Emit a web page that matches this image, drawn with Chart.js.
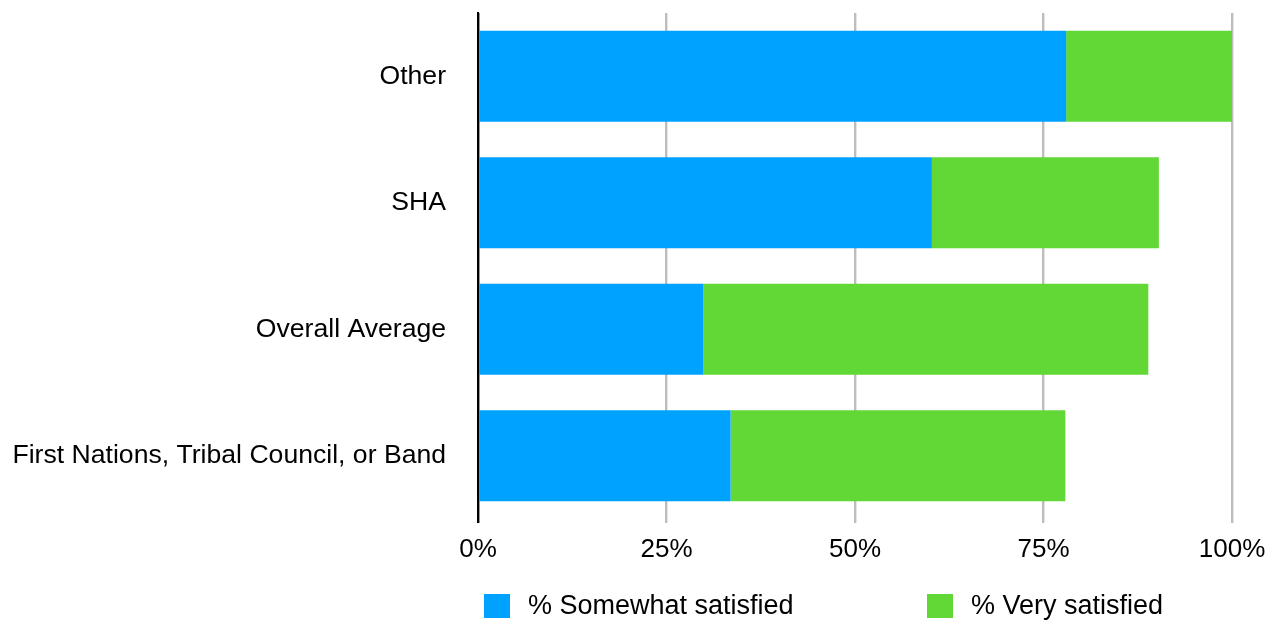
<!DOCTYPE html>
<html>
<head>
<meta charset="utf-8">
<script src="https://cdn.jsdelivr.net/npm/chart.js@4/dist/chart.umd.min.js"></script>
<style>
  html, body { margin: 0; padding: 0; background: #fff; }
  #wrap { width: 1275px; height: 622px; position: relative; }
</style>
</head>
<body>
<div id="wrap"><canvas id="c" width="1275" height="622"></canvas></div>
<script>
// Satisfaction by organisation type (stacked percentages)
const categories = ['Other', 'SHA', 'Overall Average', 'First Nations, Tribal Council, or Band'];
const somewhatSatisfied = [78.0, 60.2, 29.9, 33.5];
const verySatisfied = [22.0, 30.1, 59.0, 44.4];
const seriesNames = ['% Somewhat satisfied', '% Very satisfied'];
const seriesColors = ['#00A2FF', '#61D836'];
const xTicks = [0, 25, 50, 75, 100];

const FONT = '"Liberation Sans", Arial, Helvetica, sans-serif';

// Legend drawn below the plot, anchored to the plot area
const bottomLegend = {
  id: 'bottomLegend',
  afterDraw(chart) {
    const ctx = chart.ctx;
    const area = chart.chartArea;
    const offsets = [6, 449];
    ctx.save();
    ctx.font = '27px ' + FONT;
    ctx.textBaseline = 'middle';
    chart.data.datasets.forEach((ds, i) => {
      const x = area.left + offsets[i];
      const y = 594;
      ctx.fillStyle = ds.backgroundColor;
      ctx.fillRect(x, y, 26, 24);
      ctx.fillStyle = '#000';
      ctx.fillText(ds.label, x + 44, y + 13);
    });
    ctx.restore();
  }
};

new Chart(document.getElementById('c'), {
  type: 'bar',
  data: {
    labels: categories,
    datasets: [
      { label: seriesNames[0], data: somewhatSatisfied, backgroundColor: seriesColors[0],
        barPercentage: 0.9, categoryPercentage: 0.8 },
      { label: seriesNames[1], data: verySatisfied, backgroundColor: seriesColors[1],
        barPercentage: 0.9, categoryPercentage: 0.8 }
    ]
  },
  options: {
    indexAxis: 'y',
    responsive: false,
    animation: false,
    layout: { padding: { top: 13, right: 43, left: 0, bottom: 0 } },
    plugins: { legend: { display: false }, tooltip: { enabled: false } },
    scales: {
      x: {
        stacked: true,
        min: 0,
        max: 100,
        afterBuildTicks(scale) { scale.ticks = xTicks.map(v => ({ value: v })); },
        afterFit(scale) {
          scale.height = 103;
          scale.paddingLeft = 0;
          scale.paddingRight = 0;
        },
        grid: {
          color: ctx => (ctx.tick && ctx.tick.value === 0) ? '#000' : '#bdbdbd',
          lineWidth: 2.4,
          tickLength: 4,
          drawOnChartArea: true
        },
        border: { display: false },
        ticks: {
          color: '#000',
          padding: 11,
          font: { family: FONT, size: 26 },
          callback: v => v + '%'
        }
      },
      y: {
        stacked: true,
        afterFit(scale) {
          scale.width = 478;
          scale.paddingTop = 0;
          scale.paddingBottom = 0;
        },
        grid: { display: false },
        border: { display: true, color: '#000', width: 2 },
        ticks: {
          color: '#000',
          padding: 24,
          font: { family: FONT, size: 26.6 }
        }
      }
    }
  },
  plugins: [bottomLegend]
});
</script>
</body>
</html>
